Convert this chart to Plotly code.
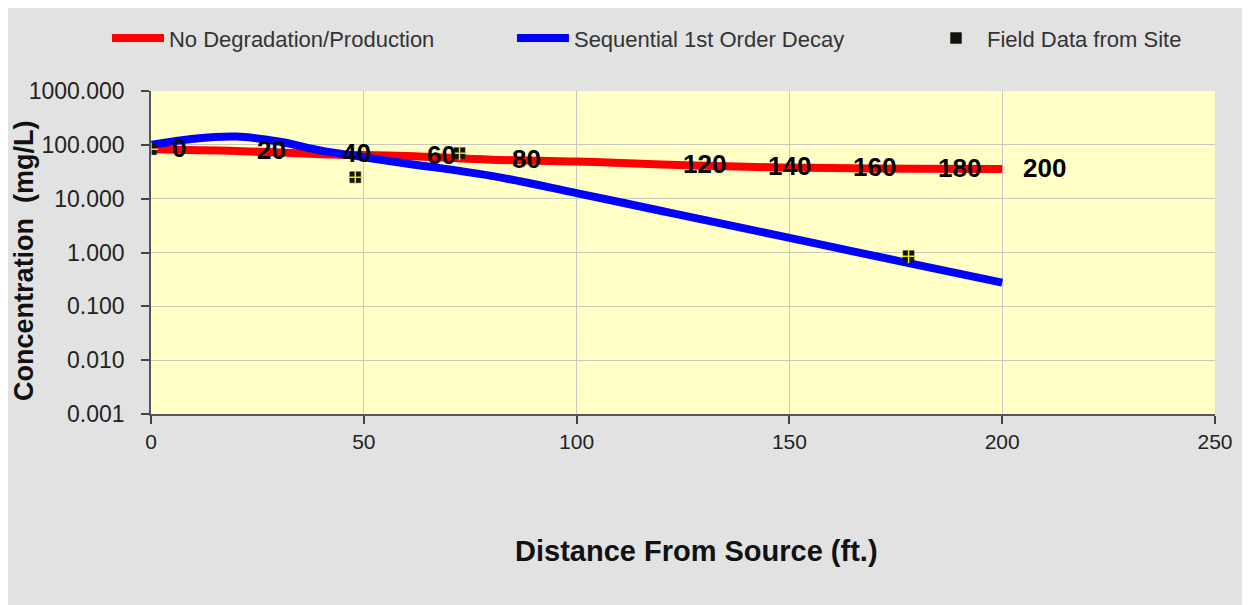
import math
import plotly.graph_objects as go

# distance from source (ft.) for the model curves
red_distance = [0, 20, 40, 60, 80, 100, 120, 140, 160, 180, 200]
no_degradation = [83, 77, 67, 62, 53, 49, 43, 39, 37, 36, 35.5]

blue_distance = [0, 10, 20, 30, 40, 50, 60, 80, 100, 120, 140, 160, 180, 200]
first_order_decay = [100, 130, 143, 115, 78, 59, 45, 26.5, 12.7, 5.9, 2.75, 1.27, 0.59, 0.275]

# point labels shown on the red curve (100 is not labelled in the original)
label_distance = [0, 20, 40, 60, 80, 120, 140, 160, 180, 200]

# field observations
field_distance = [0, 48, 72.5, 178]
field_conc = [83, 25, 70, 0.855]

y_ticks = [0.001, 0.01, 0.1, 1, 10, 100, 1000]
x_ticks = [0, 50, 100, 150, 200, 250]

FONT = "Liberation Sans, Arial, sans-serif"

fig = go.Figure()

fig.add_trace(go.Scatter(
    x=red_distance, y=no_degradation, mode="lines", name="No Degradation/Production",
    line=dict(color="#ff0000", width=8, shape="spline"), legend="legend",
))
fig.add_trace(go.Scatter(
    x=blue_distance, y=first_order_decay, mode="lines", name="Sequential 1st Order Decay",
    line=dict(color="#0000ff", width=8, shape="spline"), legend="legend2",
))
fig.add_trace(go.Scatter(
    x=field_distance, y=field_conc, mode="markers", name="Field Data from Site",
    marker=dict(symbol="square", size=11, color="#111111", line=dict(color="#222200", width=0.5)),
    legend="legend3",
))
# yellow cross inside the black squares
fig.add_trace(go.Scatter(
    x=field_distance, y=field_conc, mode="markers", showlegend=False, hoverinfo="skip",
    marker=dict(symbol="cross-thin", size=10, line=dict(color="#e8e800", width=1.5)),
))

# bold distance labels along the red line
for d in label_distance:
    c = no_degradation[red_distance.index(d)]
    fig.add_annotation(
        x=d, y=math.log10(c), text=str(d), showarrow=False,
        xanchor="left", yanchor="middle", xshift=19, yshift=1,
        font=dict(family=FONT, size=26, color="#000000", weight="bold"),
    )

# axis titles
fig.add_annotation(
    xref="paper", yref="paper", x=-0.12, y=0.475, text="Concentration  (mg/L)",
    textangle=-90, showarrow=False, xanchor="center", yanchor="middle",
    font=dict(family=FONT, size=27, color="#111111", weight="bold"),
)
fig.add_annotation(
    xref="paper", yref="paper", x=0.513, y=-0.424, text="Distance From Source (ft.)",
    showarrow=False, xanchor="center", yanchor="middle",
    font=dict(family=FONT, size=29, color="#111111", weight="bold"),
)

fig.update_xaxes(
    range=[0, 250], tickvals=x_ticks, ticks="outside", ticklen=8, tickwidth=1.5,
    tickcolor="#444444", showline=True, linecolor="#555555", linewidth=1.5,
    showgrid=True, gridcolor="#c8c8bc", gridwidth=1, zeroline=False,
    tickfont=dict(family=FONT, size=21, color="#222222"),
)
fig.update_yaxes(
    type="log", range=[-3, 3], tickvals=y_ticks, tickformat=".3f",
    ticks="outside", ticklen=8, tickwidth=1.5, tickcolor="#444444",
    ticklabelstandoff=12,
    showline=True, linecolor="#555555", linewidth=1.5,
    showgrid=True, gridcolor="#c8c8bc", gridwidth=1, zeroline=False,
    tickfont=dict(family=FONT, size=23, color="#222222"),
)

legend_style = dict(
    orientation="h", xref="container", yref="container",
    xanchor="left", y=0.95, yanchor="middle",
    font=dict(family=FONT, size=22, color="#333333"),
    bgcolor="rgba(0,0,0,0)", itemwidth=52,
)

fig.update_layout(
    width=1237, height=605,
    margin=dict(l=143, r=26, t=83, b=199),
    paper_bgcolor="#e2e2e2", plot_bgcolor="#ffffc6",
    font=dict(family=FONT, color="#333333"),
    showlegend=True,
    legend=dict(legend_style, x=0.080),
    legend2=dict(legend_style, x=0.4074),
    legend3=dict(legend_style, x=0.7413),
)

fig.write_html("out.html")
